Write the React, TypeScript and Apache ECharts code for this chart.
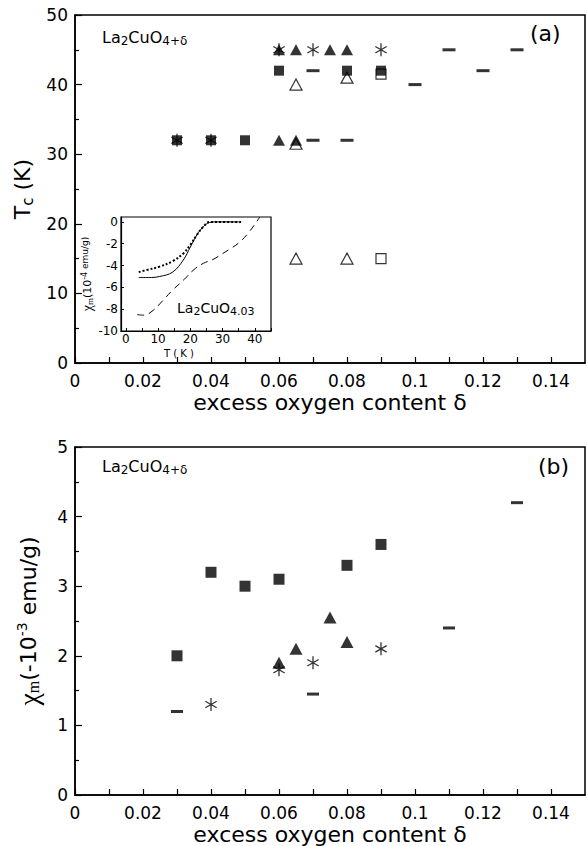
import { useEffect, useRef } from "react";
import * as echarts from "echarts";

const FONT = "DejaVu Sans";
const SERIF = "Liberation Serif";

// ---- axis ticks / labels ----
const deltaTicks = [0, 0.01, 0.02, 0.03, 0.04, 0.05, 0.06, 0.07, 0.08, 0.09, 0.1, 0.11, 0.12, 0.13, 0.14];
const deltaLabels = [0, 0.02, 0.04, 0.06, 0.08, 0.1, 0.12, 0.14];
const insetTLabels = [0, 10, 20, 30, 40];
const insetTTicks = [0, 5, 10, 15, 20, 25, 30, 35, 40, 45];
const insetChiLabels = [0, -2, -4, -6, -8, -10];

// ---- panel (a): Tc (K) vs delta ----
const tcFilledSquares = [[0.03, 32], [0.04, 32], [0.05, 32], [0.06, 42], [0.08, 42], [0.09, 42]];
const tcStars = [[0.03, 32], [0.04, 32], [0.06, 45], [0.07, 45], [0.09, 45]];
const tcFilledTriangles = [[0.06, 45], [0.065, 45], [0.075, 45], [0.08, 45], [0.06, 32], [0.065, 32]];
const tcOpenTriangles = [[0.065, 40], [0.08, 41], [0.065, 31.5], [0.065, 15], [0.08, 15]];
const tcOpenSquares = [[0.09, 41.5], [0.09, 15]];
const tcDashes = [[0.07, 42], [0.07, 32], [0.08, 32], [0.1, 40], [0.11, 45], [0.12, 42], [0.13, 45]];

// ---- inset: chi_m (1e-4 emu/g) vs T (K), La2CuO4.03 ----
const insetDotted = [[4, -4.6], [6.5, -4.4], [10.5, -4.1], [14.5, -3.6], [17.8, -2.9], [20, -2.1], [22, -1.2], [24, -0.45], [26, 0], [28, 0], [36, 0]];
const insetSolid = [[4, -5.1], [7, -5.1], [10.5, -5.0], [14.5, -4.6], [17.8, -3.5], [20, -2.3], [22, -1.2], [24, -0.45], [26, -0.05], [28, 0], [35, 0]];
const insetDashed = [[3.5, -8.5], [5.5, -8.55], [8.5, -8.1], [11.5, -7.2], [14.5, -6.25], [18, -5.3], [21, -4.4], [24, -3.8], [27, -3.45], [30, -2.9], [33, -2.35], [35.5, -1.8], [38, -1.0], [40.5, 0], [41.5, 0.45]];

// ---- panel (b): chi_m (-1e-3 emu/g) vs delta ----
const chiFilledSquares = [[0.03, 2.0], [0.04, 3.2], [0.05, 3.0], [0.06, 3.1], [0.08, 3.3], [0.09, 3.6]];
const chiFilledTriangles = [[0.06, 1.9], [0.065, 2.1], [0.075, 2.55], [0.08, 2.2]];
const chiStars = [[0.04, 1.3], [0.06, 1.8], [0.07, 1.9], [0.09, 2.1]];
const chiDashes = [[0.03, 1.2], [0.07, 1.45], [0.11, 2.4], [0.13, 4.2]];

const STAR =
  "path://M-0.6,-6L0.6,-6L0.6,6L-0.6,6ZM4.896,-3.52L5.496,-2.48L-4.896,3.52L-5.496,2.48ZM5.496,2.48L4.896,3.52L-5.496,-2.48L-4.896,-3.52Z";

const black = "#000";
const filled = { color: black };
const hollow = { color: "#fff", borderColor: black, borderWidth: 1.2 };

function sc(data: number[][], idx: number, symbol: string, size: any, itemStyle: any, z = 3) {
  return { type: "scatter", xAxisIndex: idx, yAxisIndex: idx, data, symbol, symbolSize: size, itemStyle, z, silent: true };
}

function mainX(gridIndex: number) {
  return {
    gridIndex,
    type: "value",
    min: 0,
    max: 0.15,
    axisLine: { show: true, onZero: false, lineStyle: { color: black, width: 1.5 } },
    splitLine: { show: false },
    axisTick: { show: true, inside: true, length: 6, customValues: deltaTicks, lineStyle: { color: black, width: 1.2 } },
    axisLabel: { customValues: deltaLabels, fontFamily: FONT, fontSize: 17, color: black, margin: 9 },
    name: "excess oxygen content δ",
    nameLocation: "middle",
    nameGap: 28,
    nameTextStyle: { fontFamily: FONT, fontSize: 22, color: black },
  };
}

function mainY(gridIndex: number, max: number, interval: number, name: string, rich: any, gap: number) {
  return {
    gridIndex,
    type: "value",
    min: 0,
    max,
    interval,
    axisLine: { show: true, onZero: false, lineStyle: { color: black, width: 1.5 } },
    splitLine: { show: false },
    axisTick: { show: true, inside: true, length: 7, lineStyle: { color: black, width: 1.2 } },
    minorTick: { show: true, splitNumber: 2, length: 4, lineStyle: { color: black, width: 1.2 } },
    axisLabel: { fontFamily: FONT, fontSize: 17, color: black, margin: 7 },
    name,
    nameLocation: "middle",
    nameGap: gap,
    nameRotate: 90,
    nameTextStyle: { fontFamily: FONT, fontSize: 22, color: black, rich },
  };
}

const formulaRich = {
  n: { fontFamily: FONT, fontSize: 16, lineHeight: 19, fill: black },
  s: { fontFamily: FONT, fontSize: 12, lineHeight: 8, verticalAlign: "bottom", fill: black },
};

const option: any = {
  animation: false,
  backgroundColor: "#fff",
  grid: [
    { left: 75, top: 15, width: 510, height: 348, show: true, borderColor: black, borderWidth: 1.5, backgroundColor: "transparent" },
    { left: 75, top: 447, width: 510, height: 350, show: true, borderColor: black, borderWidth: 1.5, backgroundColor: "transparent" },
    { left: 121, top: 217, width: 150, height: 114, show: true, borderColor: black, borderWidth: 1.2, backgroundColor: "#fff" },
  ],
  xAxis: [
    mainX(0),
    mainX(1),
    {
      gridIndex: 2,
      type: "value",
      min: -1.5,
      max: 45,
      axisLine: { show: true, onZero: false, lineStyle: { color: black, width: 1.2 } },
      splitLine: { show: false },
      axisTick: { show: true, inside: true, length: 3, customValues: insetTTicks, lineStyle: { color: black } },
      axisLabel: { customValues: insetTLabels, fontFamily: FONT, fontSize: 12, color: black, margin: 2 },
    },
  ],
  yAxis: [
    mainY(0, 50, 10, "{n|T}{s|c}{n| (K)}", {
      n: { fontFamily: FONT, fontSize: 22, lineHeight: 26 },
      s: { fontFamily: FONT, fontSize: 15, lineHeight: 10, verticalAlign: "bottom" },
    }, 32),
    mainY(1, 5, 1, "{g|χ}{gs|m}{n|(-10}{sup|-3}{n| emu/g)}", {
      n: { fontFamily: FONT, fontSize: 22, lineHeight: 26 },
      g: { fontFamily: SERIF, fontSize: 28, lineHeight: 26 },
      gs: { fontFamily: SERIF, fontSize: 16, lineHeight: 10, verticalAlign: "bottom" },
      sup: { fontFamily: FONT, fontSize: 14, lineHeight: 10, verticalAlign: "top" },
    }, 34),
    {
      gridIndex: 2,
      type: "value",
      min: -10,
      max: 0.45,
      axisLine: { show: true, onZero: false, lineStyle: { color: black, width: 1.2 } },
      splitLine: { show: false },
      axisTick: { show: true, inside: true, length: 3, customValues: insetChiLabels, lineStyle: { color: black } },
      axisLabel: { customValues: insetChiLabels, fontFamily: FONT, fontSize: 12, color: black, margin: 3 },
      name: "{g|χ}{gs|m}{n|(10}{sup|-4}{s| emu/g)}",
      nameLocation: "middle",
      nameGap: 22,
      nameRotate: 90,
      nameTextStyle: {
        color: black,
        rich: {
          n: { fontFamily: FONT, fontSize: 11, lineHeight: 14 },
          s: { fontFamily: FONT, fontSize: 9, lineHeight: 6, verticalAlign: "top" },
          g: { fontFamily: SERIF, fontSize: 14, lineHeight: 14 },
          gs: { fontFamily: SERIF, fontSize: 9, lineHeight: 6, verticalAlign: "bottom" },
          sup: { fontFamily: FONT, fontSize: 8, lineHeight: 6, verticalAlign: "top" },
        },
      },
    },
  ],
  series: [
    // panel (a)
    sc(tcOpenTriangles, 0, "triangle", [12, 11], hollow, 2),
    sc(tcOpenSquares, 0, "rect", [10, 10], hollow, 2),
    sc(tcDashes, 0, "rect", [13, 3], filled),
    sc(tcFilledSquares, 0, "rect", [10, 10], filled),
    sc(tcFilledTriangles, 0, "triangle", [12, 11], filled),
    sc(tcStars, 0, STAR, [12, 13], filled, 4),
    // panel (b)
    sc(chiDashes, 1, "rect", [12, 3], filled),
    sc(chiFilledSquares, 1, "rect", [11, 11], filled),
    sc(chiFilledTriangles, 1, "triangle", [13, 12], filled),
    sc(chiStars, 1, STAR, [12, 13], filled, 4),
    // inset
    {
      type: "line", xAxisIndex: 2, yAxisIndex: 2, data: insetDotted, smooth: 0.4, showSymbol: false, silent: true,
      lineStyle: { color: black, width: 2, type: "dotted" }, z: 5,
    },
    {
      type: "line", xAxisIndex: 2, yAxisIndex: 2, data: insetSolid, smooth: 0.4, showSymbol: false, silent: true,
      lineStyle: { color: black, width: 1 }, z: 5,
    },
    {
      type: "line", xAxisIndex: 2, yAxisIndex: 2, data: insetDashed, smooth: 0.4, showSymbol: false, silent: true,
      lineStyle: { color: black, width: 1, type: [7, 5] }, z: 5,
    },
  ],
  graphic: [
    {
      type: "text", left: 102, top: 29, z: 10,
      style: { text: "{n|La}{s|2}{n|CuO}{s|4+δ}", fill: black, rich: formulaRich },
    },
    { type: "text", left: 530, top: 22, z: 10, style: { text: "(a)", fontFamily: FONT, fontSize: 22, fill: black } },
    {
      type: "text", left: 102, top: 458, z: 10,
      style: { text: "{n|La}{s|2}{n|CuO}{s|4+δ}", fill: black, rich: formulaRich },
    },
    { type: "text", left: 538, top: 455, z: 10, style: { text: "(b)", fontFamily: FONT, fontSize: 22, fill: black } },
    {
      type: "text", left: 177, top: 301, z: 10,
      style: {
        text: "{n|La}{s|2}{n|CuO}{s|4.03}",
        fill: black,
        rich: {
          n: { fontFamily: FONT, fontSize: 14, lineHeight: 17, fill: black },
          s: { fontFamily: FONT, fontSize: 11, lineHeight: 8, verticalAlign: "bottom", fill: black },
        },
      },
    },
    { type: "text", left: 164, top: 348, z: 10, style: { text: "T ( K )", fontFamily: FONT, fontSize: 10, fill: black } },
  ],
};

export default function App() {
  const ref = useRef<HTMLDivElement>(null);
  useEffect(() => {
    const chart = echarts.init(ref.current!, null, { renderer: "svg" });
    chart.setOption(option);
    return () => chart.dispose();
  }, []);
  return (
    <div
      ref={ref}
      style={{ position: "absolute", left: 0, top: 0, width: 587, height: 846, background: "#fff" }}
    />
  );
}
